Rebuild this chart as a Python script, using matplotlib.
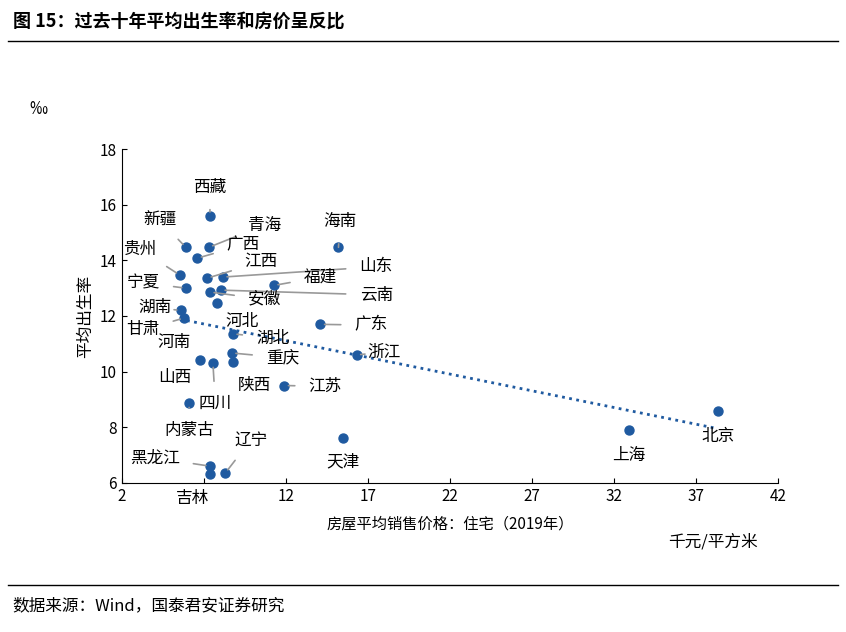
import numpy as np
import matplotlib.pyplot as plt
from matplotlib.lines import Line2D

plt.rcParams['font.family'] = ['Noto Sans CJK SC', 'DejaVu Sans']

# province, house price (k yuan/m2), birth rate (permille), label x, label y
names = ['西藏', '新疆', '青海', '广西', '贵州', '江西', '山东', '宁夏', '福建', '云南',
         '安徽', '河南', '湖南', '甘肃', '湖北', '重庆', '', '山西', '四川', '江苏',
         '内蒙古', '天津', '黑龙江', '吉林', '辽宁', '海南', '广东', '浙江', '上海', '北京']
price = [7.37, 5.9, 7.3, 6.6, 5.54, 7.2, 8.16, 5.9, 11.27, 8.04,
         7.37, 7.8, 5.6, 5.8, 8.77, 8.7, 8.8, 6.75, 7.55, 11.9,
         6.1, 15.5, 7.37, 7.37, 8.3, 15.2, 14.1, 16.3, 32.9, 38.3]
birth = [15.59, 14.47, 14.47, 14.08, 13.47, 13.36, 13.4, 13.0, 13.1, 12.93,
         12.86, 12.46, 12.2, 11.93, 11.36, 10.67, 10.35, 10.4, 10.3, 9.5,
         8.86, 7.6, 6.6, 6.32, 6.35, 14.47, 11.7, 10.6, 7.9, 8.6]
lab_x = [7.37, 4.3, 10.7, 9.4, 3.1, 10.5, 17.5, 3.3, 14.1, 17.5,
         10.7, 5.2, 4.0, 3.3, 11.2, 11.8, 0, 5.2, 7.7, 14.4,
         6.1, 15.5, 4.0, 6.3, 9.85, 15.3, 17.2, 18.0, 32.9, 38.3]
lab_y = [16.63, 15.45, 15.27, 14.55, 14.4, 13.95, 13.77, 13.2, 13.4, 12.76,
         12.6, 11.05, 12.3, 11.5, 11.2, 10.5, 0, 9.8, 8.85, 9.47,
         7.9, 6.75, 6.9, 5.45, 7.53, 15.4, 11.67, 10.7, 6.97, 7.68]
no_leader = ['河南', '山西', '天津', '上海', '北京', '吉林']
extra_labels = [('河北', 9.3, 11.8), ('陕西', 10.1, 9.5)]
x_ticks = [2, 7, 12, 17, 22, 27, 32, 37, 42]
x_ticklabels = ['2', '', '12', '17', '22', '27', '32', '37', '42']  # 7 hidden under 吉林

fig = plt.figure(figsize=(8.46, 6.32), dpi=100)
ax = fig.add_axes([0.144, 0.236, 0.776, 0.528])

blue = '#1f5aa0'
ax.scatter(price, birth, s=42, color=blue, zorder=3)

# trend line
k, b = np.polyfit(price, birth, 1)
xs = np.array([min(price), max(price)])
ax.plot(xs, k * xs + b, linestyle=(0, (1, 1.6)), color=blue, lw=2, zorder=2)

for n, x, y, lx, ly in zip(names, price, birth, lab_x, lab_y):
    if not n:
        continue
    if n in no_leader:
        ax.text(lx, ly, n, ha='center', va='center', fontsize=12, clip_on=False)
    else:
        ax.annotate(n, (x, y), (lx, ly), ha='center', va='center', fontsize=12,
                    arrowprops=dict(arrowstyle='-', color='#999999', lw=1.2,
                                    shrinkA=8, shrinkB=3))
for n, lx, ly in extra_labels:
    ax.text(lx, ly, n, ha='center', va='center', fontsize=12)

ax.set_xlim(2, 42)
ax.set_ylim(6, 18)
ax.set_xticks(x_ticks)
ax.set_xticklabels(x_ticklabels)
ax.set_yticks(np.arange(6, 19, 2))
ax.tick_params(direction='in', labelsize=11)
for s in ['top', 'right']:
    ax.spines[s].set_visible(False)
ax.set_ylabel('平均出生率', fontsize=12)
ax.set_xlabel('房屋平均销售价格：住宅（2019年）', fontsize=11, labelpad=8)
fig.text(0.035, 0.82, '‰', fontsize=13)
fig.text(0.79, 0.135, '千元/平方米', fontsize=12)

fig.text(0.015, 0.958, '图 15：过去十年平均出生率和房价呈反比', fontsize=13, fontweight='bold')
fig.add_artist(Line2D([0.01, 0.99], [0.935, 0.935], color='black', lw=1))
fig.add_artist(Line2D([0.01, 0.99], [0.075, 0.075], color='black', lw=1))
fig.text(0.015, 0.035, '数据来源：Wind，国泰君安证券研究', fontsize=12)

fig.savefig('out.png', dpi=100)
